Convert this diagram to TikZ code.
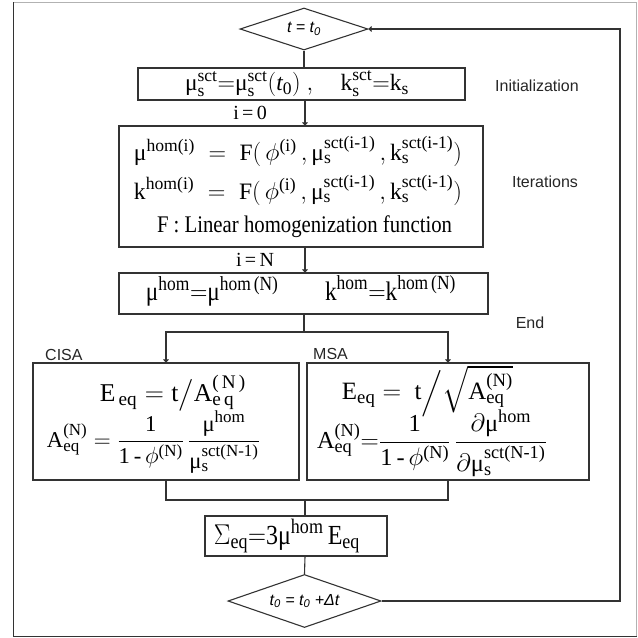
\documentclass[tikz,border=0pt]{standalone}
\usepackage{fontspec}
\usepackage{amsmath}
\usepackage{graphicx}
\setmainfont{Liberation Serif}
\setsansfont{Liberation Sans}
\usetikzlibrary{shapes.geometric,arrows.meta,calc}
\DeclareMathSizes{20}{20}{15}{12}
\newcommand{\tx}[1]{\text{#1}}
\newcommand{\mU}{\text{μ}}
\newcommand{\EQ}[2]{\scalebox{1}[1.15]{\resizebox{#1}{!}{#2}}}
\newcommand{\EQn}[2]{\resizebox{#1}{!}{#2}}
\tikzset{
  ln/.style={draw=black!80, line width=1.1pt},
  arr/.style={ln, -{To[length=3.5pt,width=5.5pt]}},
  box/.style={ln, rectangle, inner sep=0pt},
  dia/.style={ln, diamond, aspect=3, inner sep=0pt, font=\sffamily\itshape\fontsize{16}{16}\selectfont},
  eq/.style={inner sep=0pt, font=\fontsize{20}{24}\selectfont},
  lab/.style={inner sep=0pt, font=\sffamily\fontsize{16}{16}\selectfont, text=black!85},
}
\begin{document}
\begin{tikzpicture}[x=1pt,y=-1pt]
\useasboundingbox (0,0) rectangle (638,638);
% frame
\draw[gray!60, line width=1pt] (13,2) -- (636.5,2) -- (636.5,636);
\draw[black!80, line width=1pt] (13,2) -- (13,636) -- (636.5,636);

\coordinate (cx) at (305,0);
% nodes
\node[dia, minimum width=128pt, minimum height=42pt] (d1) at (304,29) {t = t\textsubscript{0}};
\node[box, minimum width=327pt, minimum height=32pt] (init) at (301.5,84) {};
\node[box, minimum width=364pt, minimum height=121pt] (iter) at (301,186.5) {};
\node[box, minimum width=369pt, minimum height=41pt] (endb) at (303.5,293.5) {};
\node[box, minimum width=266pt, minimum height=117pt] (cisa) at (166,421.5) {};
\node[box, minimum width=282pt, minimum height=117pt] (msa) at (448,421.5) {};
\node[box, minimum width=182pt, minimum height=40pt] (sig) at (296,536) {};
\node[dia, minimum width=153pt, minimum height=53pt] (d2) at (304.5,601) {t\textsubscript{0} = t\textsubscript{0} +Δt};

% equations
\node[eq] (e1) at (297,84) {\EQn{224pt}{$\mU^{\tx{sct}}_{\tx{s}}{=}\mU^{\tx{sct}}_{\tx{s}}(\textit{t}_{\tx{0}})\ ,\quad \tx{k}^{\tx{sct}}_{\tx{s}}{=}\tx{k}_{\tx{s}}$}};
\node[eq] (e2) at (298,151) {\EQn{328pt}{$\mU^{\tx{hom(i)}} \;=\; \tx{F}(\,\phi^{\tx{(i)}}\,,\mU^{\tx{sct(i-1)}}_{\tx{s}}\,,\tx{k}^{\tx{sct(i-1)}}_{\tx{s}})$}};
\node[eq] (e3) at (298,190) {\EQn{328pt}{$\tx{k}^{\tx{hom(i)}} \;=\; \tx{F}(\,\phi^{\tx{(i)}}\,,\mU^{\tx{sct(i-1)}}_{\tx{s}}\,,\tx{k}^{\tx{sct(i-1)}}_{\tx{s}})$}};
\node[eq] (e4) at (304.5,227) {\EQ{295pt}{F : Linear homogenization function}};
\node[eq] (e5) at (301,291) {\EQ{310pt}{$\mU^{\tx{hom}}{=}\mU^{\tx{hom\,(N)}}\qquad \tx{k}^{\tx{hom}}{=}\tx{k}^{\tx{hom\,(N)}}$}};
\node[eq] (e6) at (173,393) {\EQn{146pt}{$\tx{E}_{\,\tx{eq}} = \tx{t}\big/\tx{A}^{\tx{(\,N\,)}}_{\tx{e\,q}}$}};
\node[eq] (e7) at (153.5,442) {\EQn{213pt}{$\tx{A}^{\tx{(N)}}_{\tx{eq}} = \dfrac{\tx{1}}{\tx{1\,-\,}\phi^{\tx{(N)}}}\,\dfrac{\mU^{\tx{hom}}}{\mU^{\tx{sct(N-1)}}_{\tx{s}}}$}};
\node[eq] (e8) at (427.5,391) {\EQn{171pt}{$\tx{E}_{\tx{eq}} = \ \tx{t}\Big/\sqrt{\tx{A}^{\tx{(N)}}_{\tx{eq}}}$}};
\node[eq] (e9) at (432,443) {\EQn{230pt}{$\tx{A}^{\tx{(N)}}_{\tx{eq}}{=}\dfrac{\tx{1}}{\tx{1\,-\,}\phi^{\tx{(N)}}}\,\dfrac{\partial\mU^{\tx{hom}}}{\partial\mU^{\tx{sct(N-1)}}_{\tx{s}}}$}};
\node[eq] (e10) at (287,536) {\EQ{146pt}{$\Sigma_{\tx{eq}}{=}\tx{3}\mU^{\tx{hom}}\,\tx{E}_{\tx{eq}}$}};

% labels
\node[lab] (l1) at (537,86) {Initialization};
\node[lab] (l2) at (545,182) {Iterations};
\node[lab] (l3) at (530,323) {End};
\node[lab, anchor=west] (l4) at (45,355) {CISA};
\node[lab, anchor=west] (l5) at (313,354) {MSA};
\node[eq, font=\fontsize{20}{20}\selectfont] (i0) at (250,113) {i\,=\,0};
\node[eq, font=\fontsize{20}{20}\selectfont] (iN) at (255,260) {i\,=\,N};

% connectors
\draw[ln] (d1.south) -- (d1.south |- init.north);
\draw[arr] (init.south -| cx) -- (iter.north -| cx);
\draw[arr] (iter.south -| cx) -- (endb.north -| cx);
\coordinate (split) at (304,332);
\draw[ln] (endb.south -| split) -- (split);
\draw[arr] (split) -| (cisa.north);
\draw[arr] (split) -| (msa.north);
\coordinate (merge) at (305,500);
\draw[ln] (cisa.south) |- (merge);
\draw[ln] (msa.south) |- (merge);
\draw[ln] (merge) -- (sig.north -| merge);
\draw[ln] (sig.south -| cx) -- (d2.north);
\coordinate (lpb) at (620,601);
\coordinate (lpt) at (620,29);
\draw[arr] (d2.east) -- (lpb) -- (lpt) -- (d1.east);
\end{tikzpicture}
\end{document}
